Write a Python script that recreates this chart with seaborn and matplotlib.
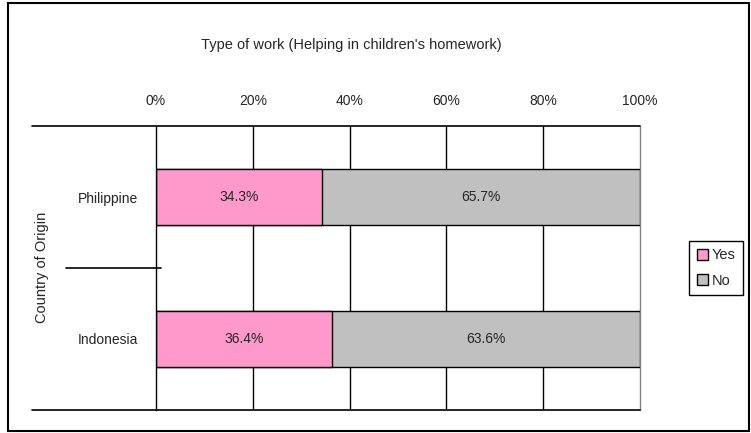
import matplotlib.pyplot as plt
import seaborn as sns
import pandas as pd
from matplotlib.patches import Patch, Rectangle
from matplotlib.lines import Line2D

# --- Dati ---
countries = ["Philippine", "Indonesia"]
yes_pct = [34.3, 36.4]
no_pct = [65.7, 63.6]
ticks = [0, 20, 40, 60, 80, 100]
tick_labels = ["0%", "20%", "40%", "60%", "80%", "100%"]

PINK = "#FF99CC"
GRAY = "#C0C0C0"
FS = 10

sns.set_style("white")
plt.rcParams['font.family'] = ['Liberation Sans', 'DejaVu Sans']
plt.rcParams['font.size'] = FS

df = pd.DataFrame({"country": countries, "Yes": yes_pct, "No": no_pct})
df["total"] = df["Yes"] + df["No"]

W, H = 751, 433
fig = plt.figure(figsize=(W / 100, H / 100), dpi=100)
fig.patch.set_facecolor("white")

# area del grafico (pixel -> frazione)
x0, x1 = 156, 640
y0, y1 = 126, 410
ax = fig.add_axes([x0 / W, 1 - y1 / H, (x1 - x0) / W, (y1 - y0) / H])

# barre impilate: prima il totale (No), poi Yes sopra
sns.barplot(data=df, x="total", y="country", color=GRAY, saturation=1,
            width=0.39, edgecolor="black", linewidth=1, ax=ax, orient="h")
sns.barplot(data=df, x="Yes", y="country", color=PINK, saturation=1,
            width=0.39, edgecolor="black", linewidth=1, ax=ax, orient="h")

for i, (y, n) in enumerate(zip(yes_pct, no_pct)):
    ax.text(y / 2, i, f"{y:.1f}%", ha="center", va="center", fontsize=FS)
    ax.text(y + n / 2, i, f"{n:.1f}%", ha="center", va="center", fontsize=FS)

ax.set_xlim(0, 100)
ax.set_ylim(1.5, -0.5)
ax.set_xticks(ticks)
ax.set_xticklabels(tick_labels, fontsize=FS)
ax.xaxis.tick_top()
ax.tick_params(axis="x", length=0, pad=13)
ax.tick_params(axis="y", length=0, pad=13)
ax.set_yticks(range(len(countries)))
ax.set_yticklabels(countries, fontsize=FS)
ax.set_xlabel("")
ax.set_ylabel("")

# griglia verticale
for t in ticks[1:-1]:
    ax.axvline(t, color="black", linewidth=1, zorder=0)
ax.axvline(100, color="#808080", linewidth=1, zorder=0, clip_on=False)
for s in ["top", "bottom", "right"]:
    ax.spines[s].set_visible(False)
ax.spines["left"].set_color("black")
ax.spines["left"].set_linewidth(1)

# linee orizzontali stile Excel (si estendono a sinistra)
def hline(px_y, px_xa, px_xb):
    fig.add_artist(Line2D([px_xa / W, px_xb / W], [1 - px_y / H, 1 - px_y / H],
                          color="black", linewidth=1.2))

hline(y0, 32, x1)
hline(y1, 32, x1)
hline(268, 66, 161)

# titolo ed etichetta asse y
fig.text(351 / W, 1 - 45 / H, "Type of work (Helping in children's homework)",
         ha="center", va="center", fontsize=10.5)
fig.text(42 / W, 1 - 267 / H, "Country of Origin", rotation=90,
         ha="center", va="center", fontsize=10.5)

# legenda
handles = [Patch(facecolor=PINK, edgecolor="black", label="Yes"),
           Patch(facecolor=GRAY, edgecolor="black", label="No")]
leg = fig.legend(handles=handles, loc="center", bbox_to_anchor=(716 / W, 1 - 268 / H),
                 fancybox=False, edgecolor="black", framealpha=1,
                 handlelength=0.8, handleheight=0.8, handletextpad=0.2,
                 borderpad=0.5, labelspacing=0.8, fontsize=10.5)
leg.get_frame().set_linewidth(1)

# bordo esterno
fig.add_artist(Rectangle((8 / W, 1 - 431 / H), 741 / W, 428 / H, transform=fig.transFigure,
                         fill=False, edgecolor="black", linewidth=1.5))

plt.savefig("out.png", dpi=100)
plt.close()
